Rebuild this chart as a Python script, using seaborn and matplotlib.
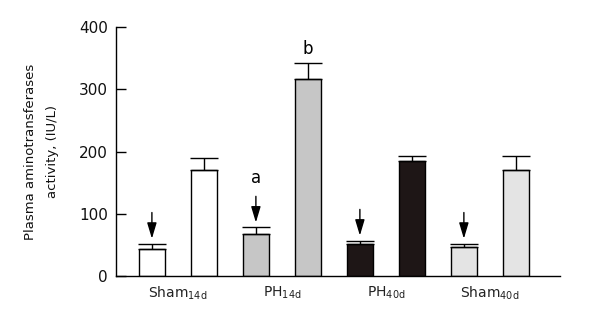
import matplotlib
matplotlib.use("Agg")
import matplotlib.pyplot as plt
import seaborn as sns
import pandas as pd

# Plasma aminotransferase activity per group (IU/L), two bars per group
bar_ids = ["s14_a", "s14_b", "ph14_a", "ph14_b", "ph40_a", "ph40_b", "s40_a", "s40_b"]
values = [44, 170, 68, 316, 52, 185, 47, 171]
errors = [8, 19, 10, 27, 5, 8, 5, 22]
colors = ["#ffffff", "#ffffff", "#c6c6c6", "#c6c6c6", "#1e1616", "#1e1616", "#e4e4e4", "#e4e4e4"]

group_names = ["Sham", "PH", "PH", "Sham"]
group_subs = ["14d", "14d", "40d", "40d"]

# bars marked with an arrow, and bars carrying a significance letter
arrow_bars = [0, 2, 4, 6]
letter_bars = {2: "a", 3: "b"}

y_ticks = [0, 100, 200, 300, 400]

sns.set_theme(style="white")
plt.rcParams["font.family"] = ["DejaVu Sans"]

df = pd.DataFrame({"bar": bar_ids, "value": values})

fig = plt.figure(figsize=(5.99, 3.30), dpi=100)
ax = fig.add_axes([0.1937, 0.1636, 0.935 - 0.1937, 0.918 - 0.1636])

sns.barplot(data=df, x="bar", y="value", hue="bar", palette=colors, legend=False,
            order=bar_ids, hue_order=bar_ids, width=0.49, edgecolor="black",
            linewidth=1.0, errorbar=None, ax=ax, saturation=1)

xs = list(range(len(values)))
ax.errorbar(xs, values, yerr=[[0] * len(errors), errors], fmt="none",
            ecolor="black", elinewidth=1.0, capsize=10, capthick=1.0, zorder=1)

for i in arrow_bars:
    tip = values[i] + errors[i] + 8
    ax.annotate("", xy=(i, tip), xytext=(i, tip + 42),
                arrowprops=dict(arrowstyle="-|>,head_length=0.8,head_width=0.24",
                                color="black", lw=1.0, shrinkA=0, shrinkB=0))

for i, letter in letter_bars.items():
    if i in arrow_bars:
        ypos = values[i] + errors[i] + 8 + 42 + 30
    else:
        ypos = values[i] + errors[i] + 22
    ax.text(i, ypos, letter, ha="center", va="center", fontsize=12, color="black")

ax.set_ylim(0, 400)
ax.set_xlim(-0.69, 7.85)
ax.set_yticks(y_ticks)
ax.set_yticklabels([str(t) for t in y_ticks], fontsize=11, color="#111111")
ax.tick_params(axis="y", direction="in", length=7, width=1, color="black", pad=6, left=True)

group_centers = [0.5, 2.5, 4.5, 6.5]
ax.set_xticks(group_centers)
ax.set_xticklabels([f"{n}$_{{\\mathregular{{{s}}}}}$" for n, s in zip(group_names, group_subs)],
                   fontsize=10, color="#222222")
ax.tick_params(axis="x", length=0, pad=6)

ax.set_xlabel("")
ax.set_ylabel("Plasma aminotransferases\nactivity, (IU/L)", fontsize=9.5,
              color="#111111", labelpad=14, linespacing=1.95)

for side in ["top", "right"]:
    ax.spines[side].set_visible(False)
for side in ["left", "bottom"]:
    ax.spines[side].set_color("black")
    ax.spines[side].set_linewidth(1.0)

fig.savefig("out.png", dpi=100, facecolor="white")
